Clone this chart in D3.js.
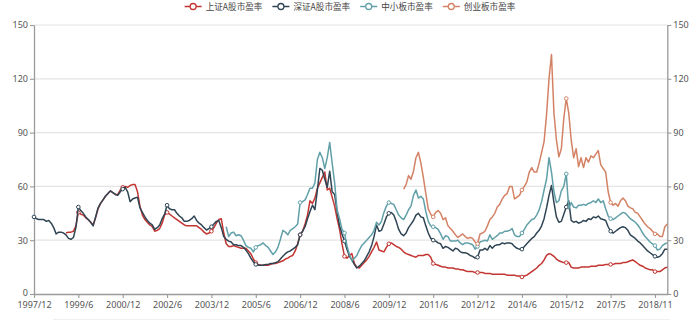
<!DOCTYPE html>
<html>
<head>
<meta charset="utf-8">
<script src="https://cdn.jsdelivr.net/npm/d3@7"></script>
<style>
  html, body { margin: 0; padding: 0; background: #fff; }
  svg { display: block; }
</style>
</head>
<body>
<svg id="chart" width="700" height="322"></svg>
<script>
// Monthly P/E ratios of the four A-share market segments.
const seriesNames = ["上证A股市盈率", "深证A股市盈率", "中小板市盈率", "创业板市盈率"];
const seriesColors = ["#c23531", "#2f4554", "#61a0a8", "#d48265"];

const tickLabels = ["1997/12", "1999/6", "2000/12", "2002/6", "2003/12", "2005/6", "2006/12",
  "2008/6", "2009/12", "2011/6", "2012/12", "2014/6", "2015/12", "2017/5", "2018/11"];
const yTicks = [0, 30, 60, 90, 120, 150];

// leading months with no listing get null
const lead = (n, vals) => new Array(n).fill(null).concat(vals);

const shA = lead(13, [
  34, 34.5, 34.5, 35, 38, 45.5, 44.5, 44, 42.5, 41.5, 40,
  38.5, 42.5, 47.5, 50.5, 52.5, 54.5, 56, 57.5, 56.5, 55.5, 55.5, 58,
  59.5, 60, 59.5, 60.5, 61, 61, 57, 49, 44, 41.5, 40, 38.5,
  37.5, 35, 35.5, 36.5, 39.5, 44, 45.5, 44.5, 43.5, 42.5, 41.5, 40.5,
  39.5, 38.5, 38, 38, 38, 38, 38, 37, 36, 34.5, 33.5, 34,
  35, 37, 39.5, 41.5, 42, 34, 28, 26.5, 26.5, 27, 26.5, 26,
  25.5, 25.5, 25.5, 24, 22.5, 19.5, 17.5, 16.5, 16, 16, 16, 16,
  16.5, 17, 17, 17.5, 18, 18.5, 19.5, 20, 21, 21.5, 24, 28,
  33, 35, 39, 44, 52, 50.5, 53.5, 59, 62, 65, 68, 58,
  59, 54, 49, 42, 36, 28, 21, 20, 21.5, 22.5, 17, 15,
  14.5, 16, 17.5, 19, 21, 23.5, 26, 29, 24.5, 24, 23.5, 26,
  28, 28.5, 27.5, 26.5, 26, 25, 23.5, 22.5, 22, 21.5, 21, 20.5,
  21.5, 21.5, 21.5, 22, 22, 20.5, 17, 16.5, 16, 15.5, 15, 15,
  14.5, 14.5, 14.5, 14, 14, 13.5, 13.5, 13, 12.5, 12.5, 12.5, 12,
  12, 12, 12, 11.5, 11.5, 11.5, 11, 11, 11, 11, 11, 11,
  10.5, 10.5, 10.5, 10.5, 10, 10, 9.5, 10, 10.5, 11.5, 12.5, 13.5,
  14.5, 16, 17, 19, 21.5, 22.5, 22, 21, 19.5, 18.5, 18, 17.5,
  17.5, 17.5, 15, 14.5, 14.5, 14.5, 15, 15, 15, 15, 15.5, 15.5,
  15.5, 16, 16, 16, 16.5, 16.5, 16.5, 16.5, 17, 17, 17, 17.5,
  17.5, 18, 18.5, 19, 18, 17, 16, 15.5, 14.5, 14, 13.5, 13.5,
  12.5, 12.5, 12.5, 13.5, 14.5, 15
]);

const szA = [
  43, 42, 41.5, 41.5, 41.5, 40.5, 41, 39.5, 37, 33.5, 34.5, 34.5,
  34, 33, 31, 30.5, 31.5, 37, 48.5, 46.5, 45, 43, 41.5, 40,
  38, 43, 48, 50.5, 52.5, 54.5, 56, 57.5, 56.5, 55.5, 55, 57,
  58.5, 59.5, 57, 51.5, 53, 53.5, 54, 48, 45.5, 43, 41, 39.5,
  38.5, 36, 37, 38.5, 42, 44.5, 49.5, 47.5, 47, 47, 45, 43.5,
  42.5, 40.5, 40.5, 41, 42, 43.5, 41, 39.5, 38.5, 37, 35.7, 36.5,
  37.5, 39, 40.5, 41, 37, 32, 30.5, 29.5, 29, 27.5, 27.5, 27,
  27, 26, 24.5, 22.5, 20, 18, 16.5, 16, 16, 16, 16.5, 16.5,
  17, 17, 17.5, 18, 19.5, 21, 22.5, 23.5, 24, 25, 26, 27.5,
  33, 35, 37.5, 42, 46, 49.5, 47, 58, 70, 69, 64, 59.5,
  68.5, 57, 55.5, 46, 38, 33.5, 29.5, 25, 21, 19, 16.5, 14.5,
  15.5, 17, 18.5, 21, 23.5, 27, 32, 38.5, 35, 35.5, 39, 43,
  45, 45.5, 44, 40.5, 36, 33.5, 32.5, 34, 37, 39, 41, 44,
  45, 43, 42.5, 38, 34, 31, 30, 29.5, 28.5, 28, 25.5, 26.5,
  26, 25, 24, 25.5, 25, 23.5, 23, 23, 22.5, 21.5, 21, 20,
  20.5, 24.5, 24.5, 25.5, 24.5, 27, 25.5, 27, 27.5, 27.5, 28.5, 28,
  28.5, 28.5, 28, 26.5, 25.5, 25, 25, 26.5, 28, 29.5, 31, 32,
  34, 35.5, 38, 42, 48, 55, 60.5, 51, 43, 40, 40.5, 44.5,
  48.5, 52, 41, 40, 40.5, 39.5, 40, 41, 40.5, 42, 41.5, 43,
  42.5, 43.5, 42, 41.5, 41, 37.5, 35, 34, 35, 36, 37, 37.5,
  37, 35.5, 33, 32, 31, 29.5, 28.5, 27, 25.5, 24, 23, 22,
  21, 20.5, 21, 22.5, 25, 25
];

const zxb = lead(78, [
  37.5, 32, 34, 34.5, 32.5, 33,
  32.5, 30, 27, 26, 25.5, 23.5, 26, 27, 27.5, 28.5, 27, 26,
  24, 22, 23.5, 26, 30.5, 35.5, 34.5, 33, 35.5, 36.5, 37.5, 39,
  51, 51.5, 52.5, 55.5, 59, 59, 62, 75, 79, 76, 70, 76,
  84.5, 73, 62, 47, 42, 36, 34, 27, 22, 18.5, 20, 21.5,
  24.5, 27, 28.5, 30, 31.5, 33, 35.5, 40, 38.5, 40.5, 45.5, 49,
  51, 50.5, 50, 47, 44, 42.5, 41.5, 44, 47, 49, 55, 58,
  53.5, 54.5, 53, 46, 40.5, 38, 37.5, 37, 36, 33.5, 30.5, 32.5,
  32, 29.5, 29.5, 29.5, 30, 28.5, 27.5, 28.5, 28.5, 28, 27.5, 25,
  26.5, 29, 29.5, 30, 29.5, 33, 30.5, 31.5, 32.5, 34, 34, 35,
  35, 35.5, 36.5, 33, 32, 32, 34, 36, 38.5, 40, 41.5, 42,
  44, 47, 51.5, 58, 64, 76, 68, 57, 51, 52, 57.5, 60,
  67, 47.5, 51, 48.5, 48, 49.5, 49.5, 50, 49.5, 50.5, 51, 52,
  51, 53, 51, 52, 47.5, 43.5, 42, 41.5, 42.5, 43.5, 44.5, 45.5,
  45, 43.5, 42, 41, 40, 38.5, 36.5, 34, 32, 30.5, 29, 28,
  27, 24.5, 25, 27, 28, 28.5
]);

const cyb = lead(150, [
  58.5, 61, 66, 64, 68.5, 76,
  79, 73, 65, 56, 47.5, 44.5, 43, 45.5, 46.5, 45, 41.5, 42.5,
  38, 36.5, 35, 33, 31.5, 32.5, 33.5, 32, 31, 31.5, 31, 29,
  28, 33.5, 34, 35, 38, 41.5, 43, 45, 48.5, 50, 53, 55,
  56, 60, 60, 53, 54, 55, 58, 60, 62.5, 68, 70.5, 68,
  68, 73, 79, 85, 100, 120, 133.5, 101, 86, 76.5, 81, 98,
  109, 101, 86, 76, 81, 71, 76, 70.5, 76, 73.5, 77, 76,
  78, 80, 72, 70, 68, 57, 51, 49.5, 50.5, 49, 52, 53.5,
  52, 49, 48, 47.5, 45.5, 45, 43, 41, 39, 37.5, 36.5, 35,
  33.5, 33.5, 32, 32, 37.5, 39
]);

const seriesData = [shA, szA, zxb, cyb];

// month categories along the x axis
const categories = szA.map((_, i) => {
  const m = 11 + i;
  return (1997 + Math.floor(m / 12)) + "/" + (m % 12 + 1);
});
const labelEvery = 18;

const svg = d3.select("#chart");
const plotLeft = 34, plotRight = 667.3, plotTop = 25, plotBottom = 294;
const font = "'Noto Sans', 'Noto Sans CJK SC', sans-serif";

const x = d3.scalePoint().domain(categories).range([plotLeft, plotRight]);
const y = d3.scaleLinear().domain([0, 150]).range([plotBottom, plotTop]);

// horizontal grid
svg.append("g")
  .selectAll("line")
  .data(yTicks.filter(v => v > 0))
  .join("line")
  .attr("x1", plotLeft).attr("x2", plotRight)
  .attr("y1", d => y(d)).attr("y2", d => y(d))
  .attr("stroke", "#e4e4e4")
  .attr("stroke-width", 1.2);

// faint rule under the date labels
svg.append("line")
  .attr("x1", 53).attr("x2", 670).attr("y1", 319.5).attr("y2", 319.5)
  .attr("stroke", "#f0f0f0").attr("stroke-width", 1);

const axisColor = "#9a9a9a";
const labelColor = "#555";
function styleAxis(g) {
  g.select(".domain").attr("stroke", axisColor).attr("stroke-width", 1.3);
  g.selectAll(".tick line").attr("stroke", axisColor).attr("stroke-width", 1.1);
  g.selectAll(".tick text").attr("fill", labelColor)
    .style("font-family", font).style("font-size", "9px");
}

const xTickVals = categories.filter((_, i) => i % labelEvery === 0);
svg.append("g")
  .attr("transform", `translate(0,${plotBottom})`)
  .call(d3.axisBottom(x).tickValues(xTickVals)
    .tickFormat((d, i) => tickLabels[i]).tickSize(4).tickSizeOuter(0).tickPadding(4))
  .call(styleAxis);

svg.append("g")
  .attr("transform", `translate(${plotLeft},0)`)
  .call(d3.axisLeft(y).tickValues(yTicks).tickSize(4).tickSizeOuter(0).tickPadding(2))
  .call(styleAxis)
  .call(g => g.selectAll(".tick text").filter(d => d === 0).attr("dy", "0.2em"));

svg.append("g")
  .attr("transform", `translate(${plotRight},0)`)
  .call(d3.axisRight(y).tickValues(yTicks).tickSize(4).tickSizeOuter(0).tickPadding(2))
  .call(styleAxis);

// series lines with hollow markers at labelled months
const line = d3.line()
  .defined(d => d != null)
  .x((d, i) => x(categories[i]))
  .y(d => y(d));

seriesData.forEach((vals, s) => {
  const g = svg.append("g");
  g.append("path")
    .attr("d", line(vals))
    .attr("fill", "none")
    .attr("stroke", seriesColors[s])
    .attr("stroke-width", 1.5)
    .attr("stroke-linejoin", "round");
  g.selectAll("circle")
    .data(vals.map((v, i) => ({ v, i })).filter(d => d.v != null && d.i % labelEvery === 0))
    .join("circle")
    .attr("cx", d => x(categories[d.i]))
    .attr("cy", d => y(d.v))
    .attr("r", 1.8)
    .attr("fill", "#fff")
    .attr("stroke", seriesColors[s])
    .attr("stroke-width", 1);
});

// legend
const legend = svg.append("g");
const items = legend.selectAll("g").data(seriesNames).join("g");
items.append("line")
  .attr("x1", 0).attr("x2", 17).attr("y1", 0).attr("y2", 0)
  .attr("stroke", (d, i) => seriesColors[i]).attr("stroke-width", 1.5);
items.append("circle")
  .attr("cx", 8.5).attr("cy", 0).attr("r", 3)
  .attr("fill", "#fff").attr("stroke", (d, i) => seriesColors[i]).attr("stroke-width", 1.3);
items.append("text")
  .attr("x", 21).attr("y", 0).attr("dy", "0.35em")
  .style("font-family", "'Noto Sans CJK SC', sans-serif")
  .style("font-size", "8.6px")
  .attr("fill", "#444")
  .text(d => d);
const widths = [];
items.each(function () {
  widths.push(21 + this.querySelector("text").getComputedTextLength());
});
const gap = 10;
const total = d3.sum(widths) + gap * (widths.length - 1);
let cursor = 350 - total / 2;
items.attr("transform", (d, i) => {
  const t = `translate(${cursor},6.5)`;
  cursor += widths[i] + gap;
  return t;
});
</script>
</body>
</html>
